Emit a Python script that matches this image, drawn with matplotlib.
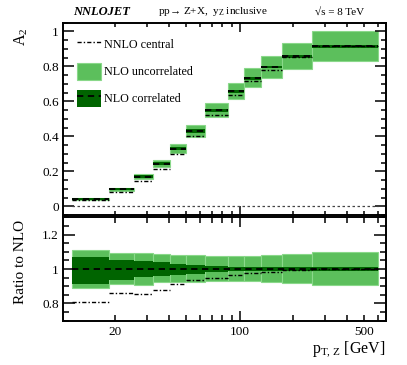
import matplotlib
matplotlib.use("Agg")
import matplotlib.pyplot as plt
import numpy as np
from matplotlib.lines import Line2D
from matplotlib.patches import Patch
from matplotlib.ticker import FixedLocator, FuncFormatter, MultipleLocator

plt.rcParams['font.family'] = ['Liberation Serif', 'DejaVu Serif']
plt.rcParams['mathtext.fontset'] = 'custom'
plt.rcParams['mathtext.rm'] = 'Liberation Serif'
plt.rcParams['mathtext.it'] = 'Liberation Serif:italic'

# pT bin edges [GeV]
pt_edges = [11.4, 18.5, 25.5, 32.6, 40.4, 50.2, 63.9, 85.4, 105, 132, 173, 253, 600]
# NLO central value of A2
a2_nlo = [0.042, 0.097, 0.169, 0.244, 0.330, 0.430, 0.549, 0.659, 0.733, 0.796, 0.859, 0.916]
# NNLO / NLO
nnlo_ratio = [0.811, 0.858, 0.854, 0.881, 0.912, 0.936, 0.947, 0.967, 0.975, 0.981, 0.994, 0.998]
# NLO uncorrelated scale band (ratio to NLO)
unc_hi = [1.111, 1.094, 1.092, 1.088, 1.084, 1.080, 1.077, 1.073, 1.076, 1.082, 1.088, 1.097]
unc_lo = [0.887, 0.912, 0.910, 0.922, 0.926, 0.926, 0.928, 0.930, 0.928, 0.922, 0.916, 0.908]
# NLO correlated scale band (ratio to NLO)
cor_hi = [1.068, 1.055, 1.045, 1.039, 1.030, 1.025, 1.017, 1.013, 1.011, 1.010, 1.010, 1.010]
cor_lo = [0.912, 0.936, 0.951, 0.961, 0.968, 0.973, 0.983, 0.987, 0.989, 0.990, 0.990, 0.990]

light = '#5cbf5c'
light_edge = '#8ad88a'
dark = '#006400'
dashdot = (0, (3, 1.5, 1, 1.5))
dashed = (0, (3.5, 2.5))

W, H = 407, 365
fig = plt.figure(figsize=(W / 100, H / 100), dpi=100)
ax1 = fig.add_axes([63 / W, 1 - 215 / H, 323 / W, (215 - 22.7) / H])
ax2 = fig.add_axes([63 / W, 1 - 320.7 / H, 323 / W, (320.7 - 217.3) / H])

left = np.array(pt_edges[:-1])
right = np.array(pt_edges[1:])
width = right - left
nlo = np.array(a2_nlo)

# top panel: A2
ax1.bar(left, nlo * (np.array(unc_hi) - np.array(unc_lo)), width=width,
        bottom=nlo * np.array(unc_lo), align='edge', color=light,
        edgecolor=light_edge, linewidth=0.8)
ax1.bar(left, nlo * (np.array(cor_hi) - np.array(cor_lo)), width=width,
        bottom=nlo * np.array(cor_lo), align='edge', color=dark, linewidth=0)
ax1.hlines(nlo, left, right, colors='black', linestyles=[dashed], linewidth=1.3)
ax1.hlines(nlo * np.array(nnlo_ratio), left, right, colors='black',
           linestyles=[dashdot], linewidth=1.0)
ax1.hlines(0, pt_edges[0], pt_edges[-1], colors='#444444',
           linestyles=[(0, (2, 2))], linewidth=0.9)

# bottom panel: ratio to NLO
ax2.bar(left, np.array(unc_hi) - np.array(unc_lo), width=width, bottom=unc_lo,
        align='edge', color=light, edgecolor=light_edge, linewidth=0.8)
ax2.bar(left, np.array(cor_hi) - np.array(cor_lo), width=width, bottom=cor_lo,
        align='edge', color=dark, linewidth=0)
ax2.hlines(1, pt_edges[0], pt_edges[-1], colors='black', linestyles=[dashed],
           linewidth=1.3)
ax2.hlines(nnlo_ratio, left, right, colors='black', linestyles=[dashdot],
           linewidth=1.0)

minor_x = [20, 30, 40, 50, 60, 70, 80, 90, 200, 300, 400, 500, 600]
for ax in (ax1, ax2):
    ax.set_xscale('log')
    ax.set_xlim(10.17, 663)
    ax.xaxis.set_major_locator(FixedLocator([100]))
    ax.xaxis.set_minor_locator(FixedLocator(minor_x))
    for s in ax.spines.values():
        s.set_linewidth(1.4)
    ax.tick_params(which='both', direction='in', top=True, right=True,
                   width=1.1, labelsize=9.5, pad=3)

ax1.set_ylim(-0.05, 1.05)
ax1.yaxis.set_major_locator(MultipleLocator(0.2))
ax1.yaxis.set_minor_locator(MultipleLocator(0.05))
ax1.yaxis.set_major_formatter(FuncFormatter(lambda v, p: '%g' % round(v, 2)))
ax1.tick_params(axis='y', which='major', length=7.7)
ax1.tick_params(axis='y', which='minor', length=3.6)
ax1.tick_params(axis='x', which='major', length=6.5)
ax1.tick_params(axis='x', which='minor', length=3.0)
ax1.tick_params(axis='x', which='both', labelbottom=False)

ax2.set_ylim(0.7, 1.3)
ax2.yaxis.set_major_locator(FixedLocator([0.8, 1.0, 1.2]))
ax2.yaxis.set_minor_locator(MultipleLocator(0.05))
ax2.yaxis.set_major_formatter(FuncFormatter(lambda v, p: '%g' % round(v, 2)))
ax2.tick_params(axis='y', which='major', length=8.6)
ax2.tick_params(axis='y', which='minor', length=4.3)
ax2.tick_params(axis='x', which='major', length=7.2)
ax2.tick_params(axis='x', which='minor', length=4.1)
ax2.tick_params(axis='x', which='both', pad=4)
ax2.xaxis.set_major_formatter(FuncFormatter(lambda v, p: '100'))
ax2.xaxis.set_minor_formatter(FuncFormatter(
    lambda v, p: '%d' % v if int(round(v)) in (20, 500) else ''))

# legend
handles = [Line2D([], [], color='black', linestyle=dashdot, linewidth=1.0),
           Patch(facecolor=light, edgecolor=light_edge, linewidth=0.8),
           (Patch(facecolor=dark, linewidth=0),
            Line2D([], [], color='black', linestyle=dashed, linewidth=1.3))]
labels = ['NNLO central', 'NLO uncorrelated', 'NLO correlated']
ax1.legend(handles, labels, loc='upper left',
           bbox_to_anchor=(77 / W, 1 - 36 / H), bbox_transform=fig.transFigure,
           frameon=False, fontsize=8.7, borderpad=0, borderaxespad=0,
           handlelength=2.0, handleheight=1.75, labelspacing=0.85,
           handletextpad=0.25)

# titles and axis labels
fig.text(73 / W, 1 - 12 / H, 'NNLOJET', fontsize=9, fontweight='bold',
         fontstyle='italic', ha='left', va='center')
fig.text(213 / W, 1 - 12 / H, 'pp\u2192 Z+X,  y$_{\\mathrm{Z}}$ inclusive',
         fontsize=8, ha='center', va='center')
fig.text(364 / W, 1 - 12 / H, '\u221as = 8 TeV', fontsize=8, ha='right',
         va='center')
fig.text(21 / W, 1 - 27 / H, r'$\mathrm{A}_2$', fontsize=11.5, rotation=90,
         ha='center', va='top')
fig.text(21 / W, 1 - 220 / H, 'Ratio to NLO', fontsize=11, rotation=90,
         ha='center', va='top')
fig.text(386 / W, 1 - 339 / H, r'$\mathrm{p}_{\mathrm{T,\,Z}}$ [GeV]',
         fontsize=11.5, ha='right', va='top')

fig.savefig('out.png', dpi=100)
